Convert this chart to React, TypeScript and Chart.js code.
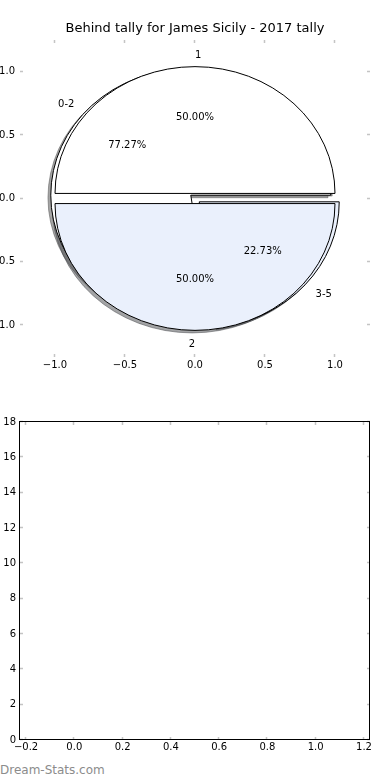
import React, { useEffect, useRef } from 'react';
import { Chart, registerables } from 'chart.js';

Chart.register(...registerables);

// ---------- data ----------
const TITLE = 'Behind tally for James Sicily - 2017 tally';
const pieALabels = ['1', '2'];
const pieAValues = [11, 11];
const pieBLabels = ['0-2', '3-5'];
const pieBValues = [17, 5];
const pieColors = ['#ffffff', '#eaf0fc'];
const pieExplode = 0.04;
const pieAxisTicks = [-1, -0.5, 0, 0.5, 1];
const lowerXTicks = [-0.2, 0, 0.2, 0.4, 0.6, 0.8, 1.0, 1.2];
const lowerYTicks = [0, 2, 4, 6, 8, 10, 12, 14, 16, 18];
const WATERMARK = 'Dream-Stats.com';

const FONT = "'DejaVu Sans', 'Noto Sans', sans-serif";

const fmt1 = (v: number) => (v < 0 ? '\u2212' : '') + Math.abs(v).toFixed(1);
const fmt0 = (v: number) => String(Math.round(v));

function hexToRgb(h: string) {
  const n = parseInt(h.slice(1), 16);
  return [(n >> 16) & 255, (n >> 8) & 255, n & 255];
}

function wedges(values: number[]) {
  const sum = values.reduce((a, b) => a + b, 0);
  let t1 = 0;
  return values.map((v) => {
    const f = v / sum;
    const t2 = t1 + f;
    const a1 = 2 * Math.PI * t1;
    const a2 = 2 * Math.PI * t2;
    const mid = Math.PI * (t1 + t2);
    t1 = t2;
    return { a1, a2, mid, pct: f * 100 };
  });
}

const piePlugin = {
  id: 'pies',
  afterDatasetsDraw(chart: any) {
    const { ctx, chartArea: a } = chart;
    const xs = chart.scales.x;
    const ys = chart.scales.y;
    const rx = xs.getPixelForValue(1) - xs.getPixelForValue(0);
    const ry = ys.getPixelForValue(0) - ys.getPixelForValue(1);
    const pies = [
      { labels: pieBLabels, values: pieBValues },
      { labels: pieALabels, values: pieAValues },
    ];
    const path = (dx: number, dy: number, w: any) => {
      const cx = xs.getPixelForValue(dx);
      const cy = ys.getPixelForValue(dy);
      ctx.beginPath();
      ctx.moveTo(cx, cy);
      ctx.ellipse(cx, cy, rx, ry, 0, -w.a1, -w.a2, true);
      ctx.closePath();
    };
    ctx.save();
    ctx.beginPath();
    ctx.rect(a.left, a.top, a.right - a.left, a.bottom - a.top);
    ctx.clip();
    // shadows
    pies.forEach((p) => {
      wedges(p.values).forEach((w, i) => {
        const ox = pieExplode * Math.cos(w.mid);
        const oy = pieExplode * Math.sin(w.mid);
        const [r, g, b] = hexToRgb(pieColors[i % pieColors.length]);
        const c = `rgba(${Math.round(r * 0.3)},${Math.round(g * 0.3)},${Math.round(b * 0.3)},0.5)`;
        path(ox - 0.02, oy - 0.02, w);
        ctx.fillStyle = c;
        ctx.strokeStyle = c;
        ctx.lineWidth = 1;
        ctx.fill();
        ctx.stroke();
      });
    });
    // wedges
    pies.forEach((p) => {
      wedges(p.values).forEach((w, i) => {
        const ox = pieExplode * Math.cos(w.mid);
        const oy = pieExplode * Math.sin(w.mid);
        path(ox, oy, w);
        ctx.fillStyle = pieColors[i % pieColors.length];
        ctx.strokeStyle = '#000';
        ctx.lineWidth = 1;
        ctx.fill();
        ctx.stroke();
      });
    });
    // texts
    ctx.fillStyle = '#000';
    ctx.font = `10px ${FONT}`;
    ctx.textBaseline = 'middle';
    pies.forEach((p) => {
      wedges(p.values).forEach((w, i) => {
        const ox = pieExplode * Math.cos(w.mid);
        const oy = pieExplode * Math.sin(w.mid);
        const xt = ox + 1.1 * Math.cos(w.mid);
        const yt = oy + 1.1 * Math.sin(w.mid);
        ctx.textAlign = xt > 0 ? 'left' : 'right';
        ctx.fillText(p.labels[i], xs.getPixelForValue(xt), ys.getPixelForValue(yt) + 1);
        const xp = ox + 0.6 * Math.cos(w.mid);
        const yp = oy + 0.6 * Math.sin(w.mid);
        ctx.textAlign = 'center';
        ctx.fillText(w.pct.toFixed(2) + '%', xs.getPixelForValue(xp), ys.getPixelForValue(yp));
      });
    });
    ctx.restore();
  },
};

function tickMarksPlugin(frame: boolean) {
  return {
    id: 'tickMarks',
    afterDraw(chart: any) {
      const { ctx, chartArea: a } = chart;
      const xs = chart.scales.x;
      const ys = chart.scales.y;
      const L = 3;
      ctx.save();
      ctx.strokeStyle = '#c4c4c4';
      ctx.lineWidth = 1.5;
      ctx.beginPath();
      xs.ticks.forEach((t: any) => {
        const px = Math.round(xs.getPixelForValue(t.value)) - 0.5;
        ctx.moveTo(px, a.top);
        ctx.lineTo(px, a.top + L);
        ctx.moveTo(px, a.bottom);
        ctx.lineTo(px, a.bottom - L);
      });
      ys.ticks.forEach((t: any) => {
        const py = Math.round(ys.getPixelForValue(t.value)) - 0.5;
        ctx.moveTo(a.left, py);
        ctx.lineTo(a.left + L, py);
        ctx.moveTo(a.right, py);
        ctx.lineTo(a.right - L, py);
      });
      ctx.stroke();
      if (frame) {
        ctx.strokeStyle = '#000';
        ctx.lineWidth = 1;
        ctx.strokeRect(a.left - 0.5, a.top - 0.5, a.right - a.left, a.bottom - a.top);
      }
      ctx.restore();
    },
  };
}

function axis(min: number, max: number, ticks: number[], fmt: (v: number) => string, pad: number, size: { w?: number; h?: number }) {
  return {
    type: 'linear' as const,
    min,
    max,
    afterBuildTicks: (s: any) => {
      s.ticks = ticks.map((v) => ({ value: v }));
    },
    afterFit: (s: any) => {
      if (size.w !== undefined) s.width = size.w;
      if (size.h !== undefined) s.height = size.h;
    },
    ticks: {
      callback: (v: any) => fmt(Number(v)),
      font: { family: FONT, size: 10 },
      color: '#000',
      padding: pad,
      maxRotation: 0,
      minRotation: 0,
      autoSkip: false,
    },
    grid: { display: false, drawTicks: false },
    border: { display: false },
  };
}

export default function App() {
  const topRef = useRef<HTMLCanvasElement>(null);
  const botRef = useRef<HTMLCanvasElement>(null);

  useEffect(() => {
    const top = new Chart(topRef.current!, {
      type: 'scatter',
      data: { datasets: [{ data: [] }] },
      options: {
        responsive: false,
        animation: false,
        layout: { padding: { left: 0, right: 20, top: 0, bottom: 0 } },
        plugins: {
          legend: { display: false },
          tooltip: { enabled: false },
          title: {
            display: true,
            text: TITLE,
            color: '#000',
            fullSize: false,
            font: { family: FONT, size: 13, weight: 'normal' },
            padding: { top: 21.2, bottom: 3.2 },
          },
        },
        scales: {
          x: axis(-1.25, 1.25, pieAxisTicks, fmt1, 2, { h: 23 }),
          y: axis(-1.25, 1.25, pieAxisTicks, fmt1, 5, { w: 60 }),
        },
      },
      plugins: [piePlugin, tickMarksPlugin(false)],
    } as any);

    const bot = new Chart(botRef.current!, {
      type: 'scatter',
      data: { datasets: [{ data: [] }] },
      options: {
        responsive: false,
        animation: false,
        layout: { padding: { left: 0, right: 20, top: 22, bottom: 0 } },
        plugins: { legend: { display: false }, tooltip: { enabled: false } },
        scales: {
          x: axis(-0.225, 1.225, lowerXTicks, fmt1, 1, { h: 22 }),
          y: axis(0, 18, lowerYTicks, fmt0, 4, { w: 60 }),
        },
      },
      plugins: [tickMarksPlugin(true)],
    } as any);

    return () => {
      top.destroy();
      bot.destroy();
    };
  }, []);

  return (
    <div>
      <canvas ref={topRef} width={430} height={380} style={{ position: 'absolute', left: -40, top: 0 }} />
      <canvas ref={botRef} width={430} height={362} style={{ position: 'absolute', left: -40, top: 400 }} />
      <div
        style={{
          position: 'absolute',
          left: 0,
          top: 763,
          font: `12px ${FONT}`,
          lineHeight: '14px',
          color: '#8c8c8c',
          whiteSpace: 'nowrap',
        }}
      >
        {WATERMARK}
      </div>
    </div>
  );
}
